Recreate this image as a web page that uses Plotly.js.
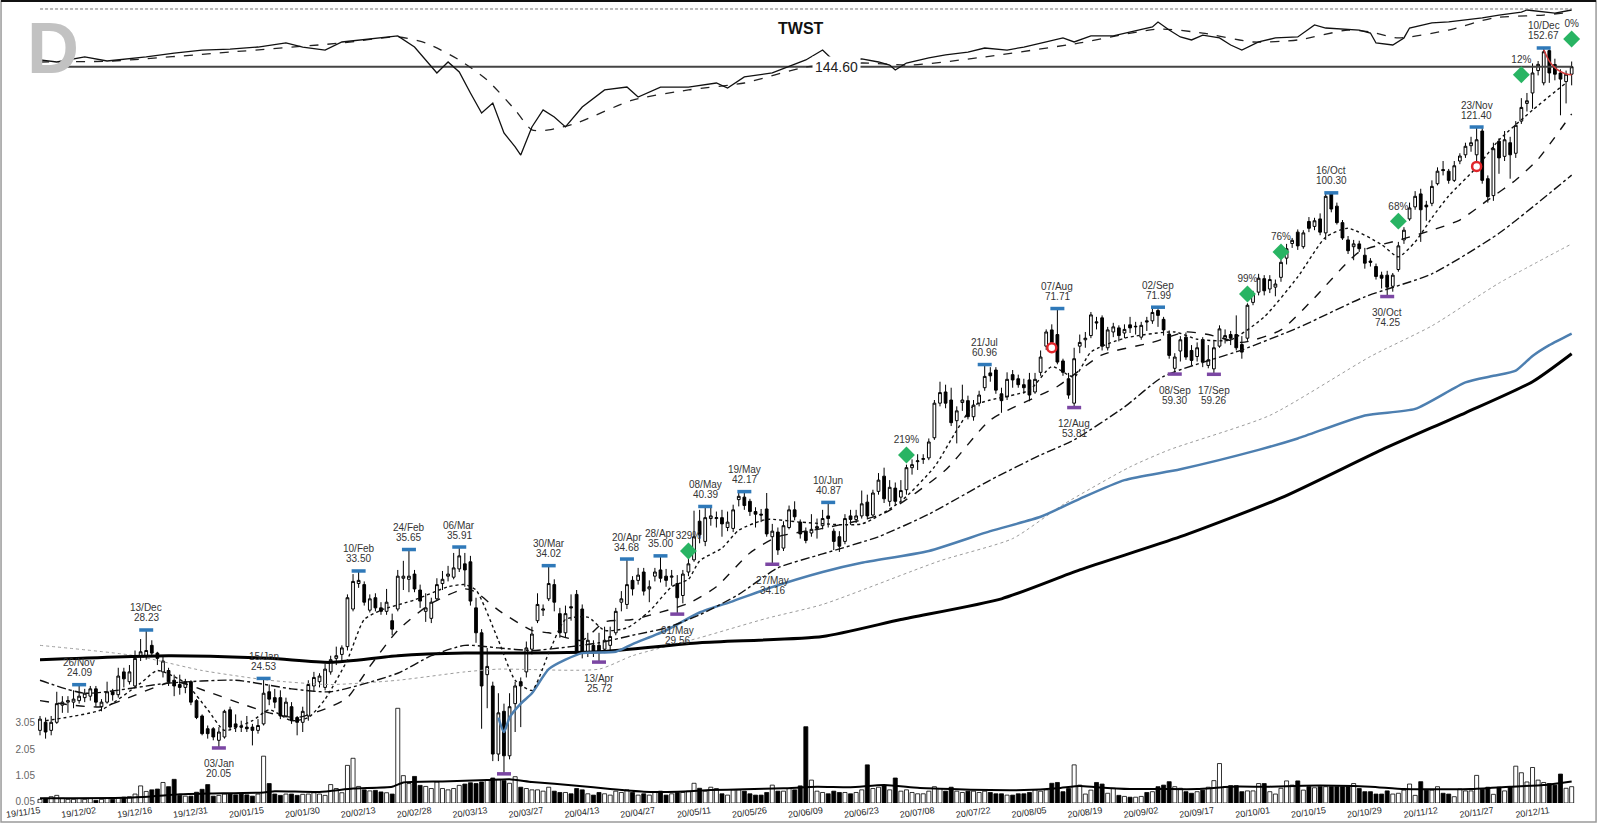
<!DOCTYPE html>
<html><head><meta charset="utf-8">
<script src="https://cdn.plot.ly/plotly-3.0.1.min.js"></script>
<style>html,body{margin:0;padding:0;background:#fff;}#chart{width:1600px;height:823px;}</style>
</head><body><div id="chart"></div>
<script>
// ---------- DATA ----------
const tickLabels = ['19/11/15','19/12/02','19/12/16','19/12/31','20/01/15','20/01/30','20/02/13','20/02/28','20/03/13','20/03/27','20/04/13','20/04/27','20/05/11','20/05/26','20/06/09','20/06/23','20/07/08','20/07/22','20/08/05','20/08/19','20/09/02','20/09/17','20/10/01','20/10/15','20/10/29','20/11/12','20/11/27','20/12/11'];
const tickIdx = [0,10,20,30,40,50,60,70,80,90,100,110,120,130,140,150,160,170,180,190,200,210,220,230,240,250,260,270];

const openP = [
21.1,21.6,21.1,21.6,22.7,22.9,22.9,23.0,23.2,23.3,
23.8,22.6,22.9,23.6,23.4,25.0,24.3,24.0,26.2,26.2,
27.0,26.4,25.0,25.1,24.4,24.1,23.9,24.3,23.0,22.0,
21.2,21.2,20.5,20.7,22.4,21.5,21.35,21.3,21.3,21.1,
21.5,23.6,23.2,23.2,22.0,22.6,21.9,21.6,22.0,24.0,
24.3,23.9,25.0,26.0,26.3,26.9,30.0,32.3,32.2,29.9,
31.0,30.1,29.8,29.0,30.0,32.8,32.7,33.2,31.7,29.8,
29.2,30.9,32.3,33.0,32.9,33.7,34.2,34.4,30.1,28.0,
24.8,24.0,19.7,22.3,19.6,22.8,24.3,25.0,26.7,29.0,
29.9,30.9,32.2,29.6,28.0,30.2,31.3,30.0,26.5,27.0,
27.0,26.7,27.0,28.0,30.6,30.4,32.6,32.6,33.4,31.8,
33.0,33.6,33.0,32.9,32.3,31.2,33.4,34.6,38.7,36.5,
39.0,39.0,39.1,38.0,37.9,41.2,41.5,41.0,39.8,39.5,
40.1,37.0,37.5,35.8,38.0,40.0,38.6,37.6,37.4,37.9,
38.2,39.3,37.6,37.0,36.5,39.3,38.9,39.3,40.9,39.4,
42.2,44.1,41.0,42.6,41.5,42.4,45.2,46.0,46.3,46.5,
49.3,54.5,56.3,55.0,51.8,54.6,54.9,52.4,54.5,57.0,
59.5,60.0,56.0,55.5,59.2,58.5,57.5,58.3,56.3,59.6,
64.3,67.4,66.5,61.6,58.5,54.5,64.3,65.5,66.3,69.0,
69.8,64.0,67.0,67.8,66.8,68.4,68.0,66.0,69.2,69.2,
71.3,69.5,66.6,60.3,63.4,66.0,63.5,62.4,65.5,60.8,
60.2,64.3,65.8,66.5,66.5,64.6,65.8,73.0,75.2,78.2,
75.9,76.3,78.5,83.0,86.6,89.5,85.8,92.3,91.0,93.0,
89.3,100.0,96.5,92.0,87.5,85.8,86.5,83.7,82.3,81.0,
79.0,79.0,76.5,80.3,87.5,93.0,96.3,100.0,96.8,97.3,
103.0,107.3,106.8,104.0,110.0,112.0,115.0,112.0,120.0,104.5,
99.5,116.5,111.5,116.0,112.5,123.5,130.0,134.0,143.0,138.0,
151.5,145.5,142.0,138.5,141.5];

const highP = [
22.0,21.9,22.0,23.6,23.3,23.3,23.7,24.09,23.8,24.0,
24.0,23.1,24.3,23.8,25.3,25.3,25.5,26.6,27.5,28.23,
27.4,26.5,26.2,25.3,24.8,24.8,24.5,24.4,23.1,22.1,
21.4,21.3,21.3,22.4,22.6,22.1,21.7,22.0,21.5,21.8,
24.53,24.1,23.8,23.7,23.2,22.9,22.0,22.6,24.4,25.0,
24.9,25.6,26.2,26.9,27.0,31.3,33.2,33.5,32.5,31.3,
31.4,30.6,31.8,29.6,33.6,34.5,35.65,33.6,32.2,31.4,
31.0,32.8,33.5,34.0,35.3,35.91,35.3,35.0,31.0,28.3,
26.8,24.3,23.5,22.8,23.5,24.3,24.6,27.3,28.5,31.4,
30.4,34.02,32.7,30.1,30.3,31.3,31.7,30.4,28.0,27.4,
28.0,28.5,28.5,30.1,31.6,34.68,33.0,33.8,33.8,32.6,
33.8,35.0,33.7,33.6,33.1,33.6,35.0,39.9,40.0,40.39,
40.3,39.8,40.0,39.8,40.6,42.0,42.17,41.3,40.3,40.1,
42.0,38.4,38.0,38.7,40.5,41.0,38.9,38.0,39.5,39.0,
40.0,40.87,37.9,37.6,39.5,40.0,40.0,42.3,41.8,42.4,
44.5,45.2,43.6,43.3,43.6,45.6,46.3,47.0,47.0,49.2,
55.0,58.0,57.5,57.0,54.0,57.5,55.7,55.0,56.5,60.96,
60.5,60.5,57.0,59.6,60.0,59.2,58.5,59.5,59.5,63.5,
67.5,68.5,71.71,62.0,59.5,64.0,66.5,67.0,71.0,70.0,
70.3,68.0,68.8,68.3,68.5,70.0,69.0,69.0,70.0,71.8,
71.99,70.0,67.3,63.0,66.2,66.9,64.5,65.0,66.0,64.5,
65.5,68.3,67.5,67.2,70.3,66.2,72.8,75.5,79.3,79.0,
79.0,78.0,83.0,86.5,88.0,90.2,90.0,93.5,93.3,94.5,
100.0,100.3,97.5,92.7,88.5,87.5,87.3,85.5,83.0,81.7,
79.8,80.0,79.5,87.0,90.8,97.5,100.8,101.5,98.0,104.0,
108.0,110.0,107.5,110.0,112.5,116.0,118.0,121.4,121.0,105.5,
116.0,117.5,120.0,118.0,123.5,132.0,134.0,146.0,147.0,152.67,
152.0,148.0,143.5,143.0,146.8];

const lowP = [
20.8,20.6,20.8,21.5,22.2,22.2,22.5,22.8,22.9,23.0,
22.6,22.3,22.8,23.0,23.2,23.9,24.1,23.9,25.8,25.9,
26.2,25.5,24.6,24.0,23.3,23.4,23.5,22.7,21.8,20.8,
20.6,20.5,20.05,20.6,21.1,21.0,21.0,21.0,20.2,20.9,
21.4,22.7,22.5,21.8,21.9,21.5,20.8,21.0,21.7,23.6,
23.9,23.7,24.8,25.5,25.8,26.6,29.8,31.9,30.3,29.7,
29.8,29.5,29.5,27.8,29.8,31.7,31.5,31.5,30.1,28.9,
28.8,30.7,31.7,32.5,32.7,33.4,32.0,30.3,27.2,21.2,
22.5,19.3,19.3,18.6,19.4,21.0,21.3,24.6,26.3,28.8,
29.4,30.7,29.8,27.6,27.6,29.0,26.2,26.0,26.1,26.1,
25.72,26.4,26.5,27.8,29.8,30.0,31.2,32.2,31.2,30.6,
32.5,32.4,32.0,32.1,29.56,30.5,33.0,34.4,36.3,36.0,
38.2,38.0,37.0,37.6,37.5,40.4,40.0,39.3,38.0,38.6,
37.0,34.16,35.1,35.5,37.8,38.8,36.8,36.3,37.0,36.8,
37.8,38.0,35.6,35.4,36.2,38.3,38.5,39.0,38.9,39.2,
41.8,40.8,40.4,40.5,40.8,41.8,44.3,44.9,45.7,46.2,
49.0,54.0,53.7,51.0,48.5,53.3,52.0,51.8,54.0,56.5,
58.0,56.0,53.0,55.0,57.0,57.0,56.0,54.8,56.0,59.0,
63.6,64.5,61.0,59.0,55.2,53.81,63.0,64.0,65.8,67.5,
63.5,63.5,66.0,65.2,65.8,66.8,66.5,65.5,67.2,68.6,
68.0,66.3,62.0,59.3,61.5,61.8,60.8,61.5,60.5,60.3,
59.26,64.0,64.8,64.5,63.5,62.0,65.3,72.4,74.5,74.5,
75.0,74.3,77.5,81.5,85.5,85.0,85.3,89.5,90.0,88.7,
87.5,94.8,91.5,87.5,84.0,82.5,84.5,80.5,81.0,78.0,
76.0,74.25,75.3,79.8,86.5,92.5,95.5,87.0,92.5,96.5,
102.5,105.5,103.0,103.5,109.0,111.0,113.0,110.0,103.0,97.5,
98.0,106.0,110.0,104.5,111.0,122.5,127.0,128.0,141.0,137.0,
138.0,139.0,125.6,130.0,137.0];

const closeP = [
21.8,21.0,21.6,22.8,22.9,23.0,23.1,23.3,23.5,23.8,
22.9,22.9,23.6,23.4,24.7,24.5,25.0,26.0,26.5,26.6,
26.4,26.0,25.8,24.3,24.0,23.9,24.3,22.9,21.9,20.9,
20.9,20.7,21.0,22.3,21.3,21.3,21.3,21.2,21.1,21.4,
23.5,23.1,22.9,22.0,22.9,21.7,21.6,22.3,24.1,24.6,
24.7,25.2,25.9,26.2,26.8,31.0,32.5,32.6,30.6,30.9,
30.1,29.8,30.6,28.3,33.0,33.0,33.0,31.8,30.7,30.1,
30.6,32.2,32.7,33.2,33.8,35.0,33.6,30.7,28.0,24.0,
25.4,19.7,22.2,19.6,22.6,24.0,24.0,26.8,27.9,30.4,
30.0,32.3,30.6,28.0,29.6,30.1,26.5,26.4,27.4,26.5,
26.5,27.4,27.7,29.8,30.9,32.2,31.8,33.1,31.6,32.0,
33.4,32.8,32.6,33.0,31.0,33.2,34.2,37.0,37.2,39.1,
39.3,39.1,38.4,38.6,40.0,41.6,40.5,39.8,39.5,39.4,
37.3,37.6,35.6,38.2,40.0,39.2,37.3,36.6,37.8,38.1,
39.0,39.0,36.5,36.0,39.0,38.9,39.3,40.7,39.3,42.0,
43.6,41.3,42.7,41.0,42.3,45.2,45.6,46.1,46.4,48.7,
54.5,56.2,54.5,51.5,53.3,55.0,52.4,54.2,55.8,58.9,
59.0,56.6,54.9,58.4,58.3,57.5,57.0,55.8,58.4,62.3,
67.0,65.0,61.4,59.6,55.8,62.0,65.0,65.8,70.4,68.8,
64.3,67.4,68.0,66.3,67.5,67.8,68.1,68.3,69.0,70.9,
70.3,67.4,62.6,62.3,65.5,62.3,61.7,64.0,61.4,61.8,
64.0,67.6,66.3,65.8,64.0,63.2,72.4,74.8,78.3,75.5,
78.0,77.0,82.0,85.3,87.4,86.0,89.3,90.5,92.5,89.5,
99.3,95.7,92.0,88.0,84.8,86.5,85.3,81.8,82.0,78.7,
78.3,76.3,79.0,86.0,90.0,96.0,99.3,95.5,96.3,102.2,
106.8,107.0,104.0,108.5,111.6,114.8,116.0,117.0,104.0,99.2,
114.0,111.0,117.0,112.0,122.0,128.5,131.0,142.0,145.6,151.0,
142.0,141.5,139.5,141.5,144.6];

const volume = [
0.14,0.18,0.24,0.29,0.18,0.14,0.14,0.17,0.14,0.17,
0.10,0.14,0.17,0.14,0.20,0.22,0.24,0.34,0.65,0.44,
0.50,0.53,0.78,0.62,0.90,0.29,0.26,0.26,0.41,0.52,
0.70,0.26,0.29,0.34,0.34,0.31,0.34,0.31,0.26,0.34,
1.78,0.74,0.34,0.29,0.34,0.34,0.29,0.33,0.34,0.39,
0.34,0.29,0.70,0.55,0.39,1.43,1.70,0.63,0.50,0.46,
0.48,0.42,0.39,0.34,3.60,1.04,0.74,1.01,0.67,0.63,
0.55,0.80,0.55,0.50,0.55,0.67,0.72,0.77,0.74,0.80,
0.87,0.95,0.90,0.85,0.75,1.00,0.60,0.55,0.50,0.50,
0.45,0.60,0.45,0.40,0.40,0.35,0.55,0.50,0.35,0.30,
0.40,0.35,0.30,0.45,0.40,0.50,0.40,0.30,0.35,0.30,
0.40,0.45,0.30,0.35,0.40,0.40,0.45,0.75,0.56,0.45,
0.60,0.55,0.35,0.30,0.50,0.50,0.45,0.35,0.30,0.30,
0.40,0.68,0.45,0.45,0.55,0.50,0.65,2.90,0.87,0.45,
0.40,0.35,0.45,0.40,0.40,0.35,0.40,0.50,1.45,0.55,
0.60,0.65,0.50,0.95,0.45,0.50,0.40,0.35,0.35,0.45,
0.62,0.55,0.45,0.60,0.45,0.40,0.45,0.45,0.40,0.45,
0.40,0.35,0.35,0.30,0.30,0.35,0.35,0.40,0.50,0.45,
0.50,0.75,0.78,0.43,0.55,1.45,0.68,0.34,0.49,0.78,
0.72,0.37,0.56,0.29,0.25,0.22,0.22,0.25,0.40,0.43,
0.62,0.68,0.81,0.62,0.56,0.43,0.37,0.43,0.49,0.60,
0.85,1.50,0.62,0.66,0.66,0.43,0.46,0.46,0.74,0.74,
0.43,0.34,0.56,0.84,0.68,0.84,0.49,0.62,0.58,0.62,
0.62,0.62,0.62,0.62,0.62,0.74,0.55,0.43,0.43,0.34,
0.34,0.46,0.34,0.37,0.49,0.72,0.29,0.81,0.49,0.49,
0.62,0.37,0.34,0.24,0.53,0.46,0.46,1.05,0.52,0.60,
0.33,0.60,0.46,0.62,1.40,1.15,0.80,1.35,0.87,0.78,
0.74,0.68,1.10,0.56,0.62];

// moving averages (index, value)
const ma10Idx = [1,11,18,21,26,30,33,38,41,45,48,51,55,58,61,67,73,76,78,82,85,88,91,94,98,101,105,109,113,116,118,122,125,130,136,147,154,160,164,167,170,177,181,185,188,194,203,207,213,219,225,230,234,240,243,246,249,252,257,261,267,273];
const ma10Val = [21.7,22.4,24.2,25.1,24.2,22.4,21.1,21.7,22.4,21.7,21.9,23.1,25.9,29.1,29.9,30.8,32.0,32.2,31.7,27.4,24.4,23.7,26.4,29.1,29.3,28.2,28.4,29.8,32.0,32.7,34.5,35.8,37.7,38.9,38.6,38.4,41.0,45.3,50.4,54.1,55.0,56.6,60.6,58.8,63.2,65.8,67.0,65.6,65.5,70.0,78.6,88.2,90.5,86.3,83.3,87.0,93.3,99.4,108.0,116.9,127.5,138.0];
const ma20Idx = [0,11,24,30,36,41,46,52,55,59,64,70,76,78,82,88,91,97,101,106,116,121,127,132,140,151,162,170,182,190,199,205,209,215,222,228,236,243,249,254,259,264,268,274];
const ma20Val = [23.0,22.6,24.3,23.6,22.8,22.2,21.9,22.6,23.2,25.4,28.2,30.5,31.8,31.5,29.9,28.2,28.0,27.4,28.9,29.1,30.5,32.0,35.3,37.0,37.9,39.6,44.9,51.9,57.2,62.7,65.0,67.0,66.5,65.0,67.4,74.0,84.5,87.4,90.0,92.7,98.2,104.1,110.6,126.1];
const ma50Idx = [0,8,23,35,45,52,64,70,76,82,88,95,100,106,112,118,125,132,140,150,159,170,179,185,194,201,215,225,237,249,261,274];
const ma50Val = [24.4,23.5,24.2,24.4,23.8,23.6,24.9,26.2,27.0,26.8,26.6,26.9,27.2,27.8,28.4,29.5,31.3,33.8,35.2,37.0,39.5,43.6,46.9,49.0,53.9,58.9,63.6,67.8,74.2,79.3,89.2,105.6];
const ma100Idx = [0,17,29,41,52,64,76,82,100,106,118,130,140,161,174,183,195,202,220,238,249,261,274];
const ma100Val = [27.0,26.2,25.1,24.4,24.1,24.4,25.0,25.2,25.2,26.2,27.6,29.2,30.4,34.5,36.8,40.6,45.3,47.6,52.6,62.4,68.2,77.2,86.5];
const vwapIdx = [82,83,84,86,88,91,94,97,103,106,112,118,124,130,140,147,159,170,179,186,194,204,218,225,237,246,255,260,264,267,270,274];
const vwapVal = [21.9,21.0,21.9,22.8,23.5,25.2,25.9,26.4,26.5,27.1,28.2,29.7,30.7,31.8,33.4,34.3,35.5,37.6,39.2,41.3,43.6,45.0,47.6,49.2,52.6,53.6,57.9,59.0,59.9,62.5,64.5,66.7];
const ma200Idx = [0,23,41,52,64,76,82,100,118,140,154,172,186,204,222,240,255,267,274];
const ma200Val = [25.9,26.2,26.0,25.7,26.2,26.4,26.4,26.5,27.2,27.7,29.1,30.9,33.6,37.0,41.4,47.6,53.0,58.0,62.9];
const volMaIdx = [0,15,20,25,30,40,42,50,56,63,65,72,80,84,88,96,102,108,114,120,126,133,139,145,151,157,163,170,176,182,186,189,195,201,207,213,220,226,232,238,244,250,256,263,269,274];
const volMaVal = [0.18,0.2,0.25,0.33,0.36,0.4,0.45,0.42,0.55,0.62,0.78,0.82,0.87,0.9,0.8,0.66,0.53,0.43,0.43,0.49,0.52,0.56,0.62,0.6,0.68,0.58,0.53,0.49,0.49,0.56,0.65,0.6,0.53,0.53,0.53,0.62,0.62,0.66,0.66,0.62,0.53,0.52,0.53,0.62,0.68,0.82];
const redCurveIdx = [269,270,271,272,273,274];
const redCurveVal = [152.0,147.0,144.2,142.6,141.6,141.3];

// relative strength panel
const rsIdx = [0,3,8,12,19,24,29,34,39,44,47,51,54,60,64,67,69,71,73,75,77,79,81,83,85,86,88,90,92,94,97,101,105,107,111,116,121,123,126,131,137,140,142,147,150,152,153,155,159,162,166,169,173,176,180,183,185,188,192,195,199,200,202,204,206,208,211,213,215,218,221,225,228,230,233,236,238,239,242,244,245,249,252,255,258,261,265,266,270,271,274];
const rsVal = [64.6,63.2,66.7,63.9,66.7,69.4,71.5,72.2,73.6,76.4,73.6,71.5,77.1,79.9,81.3,73.6,64.6,55.6,63.2,56.3,41.7,27.8,34.7,13.9,4.2,-1.4,18.1,29.9,25.0,18.1,31.9,43.8,45.8,38.9,45.8,45.8,48.6,45.1,52.8,55.6,64.6,71.5,64.0,65.3,63.2,61.1,57.6,62.5,66.0,68.1,70.1,72.9,71.5,73.6,77.1,79.9,77.1,81.3,81.3,84.0,87.5,91.0,85.4,80.6,78.5,81.9,79.9,75.0,71.5,77.1,79.9,80.6,88.9,86.8,86.1,85.4,83.3,76.4,75.0,79.9,86.8,90.3,91.0,92.4,93.8,95.8,97.9,99.3,97.2,97.2,99.3];
const rsMaIdx = [0,13,34,54,64,69,75,80,85,88,91,96,106,116,126,137,147,156,169,186,200,208,217,225,234,238,243,252,260,269,274];
const rsMaVal = [63.2,63.9,70.1,76.4,80.6,76.4,64.6,50.7,29.9,16.0,16.0,20.8,36.8,43.8,48.6,59.7,62.5,61.1,66.7,76.4,86.1,83.3,77.1,78.5,85.4,84.0,79.9,85.4,93.8,95.8,97.9];

// pivots
const hiIdx = [7,19,40,57,66,75,91,105,111,119,126,141,169,182,200,231,257,269];
const hiVal = [24.09,28.23,24.53,33.50,35.65,35.91,34.02,34.68,35.00,40.39,42.17,40.87,60.96,71.71,71.99,100.30,121.40,152.67];
const hiLab = ['26/Nov','13/Dec','15/Jan','10/Feb','24/Feb','06/Mar','30/Mar','20/Apr','28/Apr','08/May','19/May','10/Jun','21/Jul','07/Aug','02/Sep','16/Oct','23/Nov','10/Dec'];
const loIdx = [32,83,100,114,131,185,203,210,241];
const loVal = [20.05,18.60,25.72,29.56,34.16,53.81,59.30,59.26,74.25];
const loLab = ['03/Jan','','13/Apr','01/May','27/May','12/Aug','08/Sep','17/Sep','30/Oct'];

// signals
const sigIdx = [116,155,216,222,243,265,274];
const sigVal = [35.5,46.9,74.8,84.5,92.4,141.3,156.7];
const sigLab = ['329%','219%','99%','76%','68%','12%','0%'];
const ringIdx = [181,257];
const ringVal = [64.0,108.3];

const lastPrice = 144.60;
const volTicks = [0.05,1.05,2.05,3.05];

// ---------- BUILD ----------
const dayIdx = closeP.map((_, i) => i);
const volColors = closeP.map((c, i) => c >= openP[i] ? '#ffffff' : '#000000');

function maLine(x, y, color, width, dash, yaxis) {
  return {type:'scatter', mode:'lines', x:x, y:y, yaxis:yaxis||'y', hoverinfo:'skip',
    line:{color:color, width:width, dash:dash, shape:'spline', smoothing:0.6}};
}

const traces = [
  maLine(ma100Idx, ma100Val, '#9c9c9c', 1, 'dot'),
  maLine(ma200Idx, ma200Val, '#000000', 3, 'solid'),
  maLine(vwapIdx, vwapVal, '#4d7fb0', 2.5, 'solid'),
  maLine(ma50Idx, ma50Val, '#111111', 1.4, 'dashdot'),
  maLine(ma20Idx, ma20Val, '#111111', 1.4, 'dash'),
  maLine(ma10Idx, ma10Val, '#111111', 1.4, 'dot'),
  {type:'candlestick', x:dayIdx, open:openP, high:highP, low:lowP, close:closeP,
    increasing:{line:{color:'#000', width:1}, fillcolor:'#ffffff'},
    decreasing:{line:{color:'#000', width:1}, fillcolor:'#000000'},
    whiskerwidth:0, hoverinfo:'skip'},
  {type:'scatter', mode:'lines', x:[0, dayIdx[dayIdx.length-1]], y:[lastPrice, lastPrice],
    line:{color:'#444', width:2}, hoverinfo:'skip'},
  {type:'scatter', mode:'lines', x:redCurveIdx, y:redCurveVal,
    line:{color:'#d23a3a', width:1.5, shape:'spline'}, hoverinfo:'skip'},
  {type:'scatter', mode:'markers', x:hiIdx, y:hiVal, hoverinfo:'skip',
    marker:{symbol:'line-ew', size:10, line:{width:3.5, color:'#2f79b9'}}},
  {type:'scatter', mode:'markers', x:loIdx, y:loVal, hoverinfo:'skip',
    marker:{symbol:'line-ew', size:10, line:{width:3.5, color:'#7b46a3'}}},
  {type:'scatter', mode:'markers+text', x:sigIdx, y:sigVal, text:sigLab, textposition:'top center',
    textfont:{size:10, color:'#333'}, hoverinfo:'skip',
    marker:{symbol:'diamond', size:13, color:'#28b463'}},
  {type:'scatter', mode:'markers', x:ringIdx, y:ringVal, hoverinfo:'skip',
    marker:{symbol:'circle', size:9, color:'#ffffff', line:{color:'#e0262b', width:2.5}}},
  {type:'bar', x:dayIdx, y:volume, yaxis:'y2', width:0.72, hoverinfo:'skip',
    marker:{color:volColors, line:{color:'#000', width:0.8}}},
  {type:'scatter', mode:'lines', x:volMaIdx, y:volMaVal, yaxis:'y2', hoverinfo:'skip',
    line:{color:'#000', width:2, shape:'spline', smoothing:0.5}},
  {type:'scatter', mode:'lines', x:rsMaIdx, y:rsMaVal, yaxis:'y3', hoverinfo:'skip',
    line:{color:'#222', width:1.3, dash:'dash', shape:'spline', smoothing:0.6}},
  {type:'scatter', mode:'lines', x:rsIdx, y:rsVal, yaxis:'y3', hoverinfo:'skip',
    line:{color:'#111', width:1.3}}
];

const labFont = {size:10, color:'#333'};
const annotations = [];
hiIdx.forEach((ix, k) => {
  annotations.push({x:ix, y:Math.log10(hiVal[k]), xref:'x', yref:'y', text:hiLab[k], showarrow:false, yshift:22, font:labFont});
  annotations.push({x:ix, y:Math.log10(hiVal[k]), xref:'x', yref:'y', text:hiVal[k].toFixed(2), showarrow:false, yshift:12, font:labFont});
});
loIdx.forEach((ix, k) => {
  if (!loLab[k]) return;
  annotations.push({x:ix, y:Math.log10(loVal[k]), xref:'x', yref:'y', text:loLab[k], showarrow:false, yshift:-16, font:labFont});
  annotations.push({x:ix, y:Math.log10(loVal[k]), xref:'x', yref:'y', text:loVal[k].toFixed(2), showarrow:false, yshift:-26, font:labFont});
});
annotations.push({x:142.5, y:Math.log10(lastPrice), xref:'x', yref:'y', text:lastPrice.toFixed(2), showarrow:false,
  bgcolor:'#ffffff', borderpad:2, font:{size:14, color:'#222'}});
annotations.push({x:0.4923, y:0.9651, xref:'paper', yref:'paper', xanchor:'center', yanchor:'middle',
  text:'<b>TWST</b>', showarrow:false, font:{size:16, color:'#111'}});
annotations.push({x:0.0109, y:0.9402, xref:'paper', yref:'paper', xanchor:'center', yanchor:'middle',
  text:'<b>D</b>', showarrow:false, font:{size:72, color:'#c2c2c2'}});

const layout = {
  width:1600, height:823,
  margin:{l:36, r:10, t:0, b:20},
  paper_bgcolor:'#ffffff', plot_bgcolor:'rgba(0,0,0,0)',
  showlegend:false,
  font:{family:'Liberation Sans, Arial, sans-serif', color:'#222'},
  xaxis:{range:[-0.716, 277.28], tickmode:'array', tickvals:tickIdx, ticktext:tickLabels, tickangle:-8,
    tickfont:{size:9, color:'#222'}, showgrid:false, zeroline:false, showline:false, ticks:'',
    rangeslider:{visible:false}, fixedrange:true},
  yaxis:{type:'log', range:[1.2328, 2.2442], showgrid:false, zeroline:false, showticklabels:false, ticks:'', showline:false, fixedrange:true},
  yaxis2:{overlaying:'y', side:'left', range:[0, 30.53], tickmode:'array', tickvals:volTicks, ticktext:volTicks.map(v => v.toFixed(2)),
    tickfont:{size:10, color:'#666'}, showgrid:false, zeroline:false, showline:false, ticks:'', fixedrange:true},
  yaxis3:{overlaying:'y', range:[-451.4, 106.25], visible:false, fixedrange:true},
  bargap:0.2,
  shapes:[
    {type:'rect', xref:'paper', yref:'paper', x0:-0.0225, x1:1.0039, y0:-0.0237, y1:0.9988, line:{color:'#9a9a9a', width:1.5}},
    {type:'line', xref:'paper', yref:'paper', x0:-0.0225, x1:1.0039, y0:0.9988, y1:0.9988, line:{color:'#111', width:2}},
    {type:'line', xref:'paper', yref:'paper', x0:0.0026, x1:0.9884, y0:0.9888, y1:0.9888, line:{color:'#777', width:1, dash:'3px,2px'}}
  ],
  annotations:annotations
};

Plotly.newPlot('chart', traces, layout, {staticPlot:true, displayModeBar:false});
</script>
</body></html>
